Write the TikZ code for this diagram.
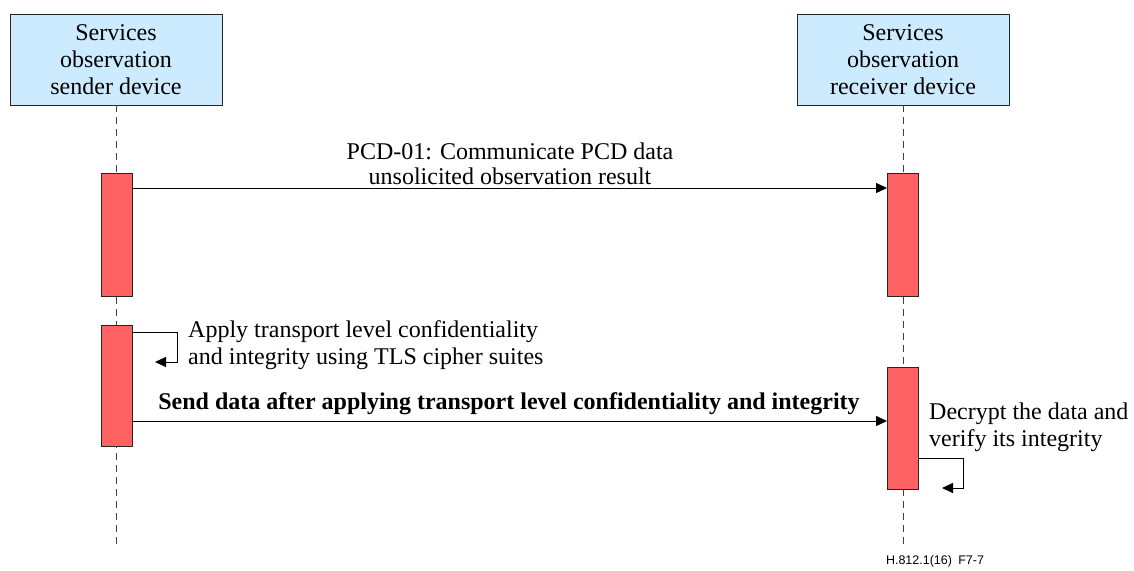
\documentclass[tikz,border=0pt]{standalone}
\usepackage{fontspec}
\setmainfont{Liberation Serif}
\newfontfamily\footfont{Liberation Sans}
\usetikzlibrary{arrows.meta}
\definecolor{boxblue}{HTML}{CCEBFF}
\definecolor{actred}{HTML}{FF6262}
\begin{document}
\begin{tikzpicture}[x=1pt,y=-1pt,
  actor/.style={draw=black!85,line width=0.9pt,fill=boxblue,minimum width=212pt,minimum height=91pt,align=center,inner sep=0pt,font=\fontsize{24}{27}\selectfont},
  act/.style={draw=black!85,line width=0.9pt,fill=actred,minimum width=31pt,inner sep=0pt},
  life/.style={dashed,dash pattern=on 7pt off 5pt,line width=0.9pt,black!75},
  msg/.style={line width=0.9pt,-{Triangle[length=11pt,width=10pt]}},
  lbl/.style={font=\fontsize{24}{27}\selectfont,align=left,inner sep=0pt}
]
\useasboundingbox (0,0) rectangle (1134,570);
\node[actor] (A) at (116,59.5) {Services\\observation\\sender device};
\node[actor] (B) at (903,59.5) {Services\\observation\\receiver device};
\coordinate (Aend) at (116,548);
\coordinate (Bend) at (903,548);
\draw[life] (A.south) -- (Aend);
\draw[life] (B.south) -- (Bend);
\node[act,minimum height=123pt] (a1) at (116.5,234.5) {};
\node[act,minimum height=123pt] (b1) at (903,234.5) {};
\node[act,minimum height=121pt] (a2) at (116.5,385.5) {};
\node[act,minimum height=122pt] (b2) at (903,428) {};
\draw[msg] (a1.east|-0,188) -- (b1.west|-0,188);
\node[font=\fontsize{24}{25}\selectfont,align=center,inner sep=0pt] (m1) at (510,164) {PCD-01: Communicate PCD data\\unsolicited observation result};
\coordinate (s1) at (177,332);
\coordinate (s1e) at (155,362);
\draw[msg] (a2.east|-0,332) -- (s1) -- (s1|-s1e) -- (s1e);
\node[lbl,anchor=west] (t1) at (188,345) {Apply transport level confidentiality\\and integrity using TLS cipher suites};
\draw[msg] (a2.east|-0,421) -- (b2.west|-0,421);
\node[font=\fontsize{24}{25}\selectfont\bfseries,inner sep=0pt] (m2) at (509,404) {Send data after applying transport level confidentiality and integrity};
\coordinate (s2) at (963,458);
\coordinate (s2e) at (942,488);
\draw[msg] (b2.east|-0,458) -- (s2) -- (s2|-s2e) -- (s2e);
\node[lbl,anchor=west] (t2) at (929,427) {Decrypt the data and\\verify its integrity};
\node[font=\footfont\fontsize{12.5}{14}\selectfont,inner sep=0pt] (fn) at (935,561) {H.812.1(16)\enspace F7-7};
\end{tikzpicture}
\end{document}
